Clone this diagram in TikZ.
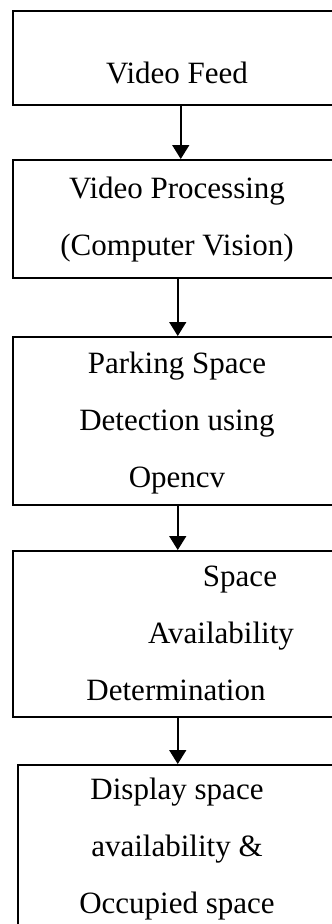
\documentclass[tikz,border=0pt]{standalone}
\usepackage{fontspec}
\setmainfont{Liberation Serif}
\usepackage{tikz}
\usetikzlibrary{shapes, arrows.meta}
\tikzstyle{stage} = [rectangle, draw=black, line width=1.5pt, inner sep=0pt, anchor=north west, minimum width=330pt]
\tikzstyle{txt} = [font=\fontsize{31}{57}\selectfont, align=center, anchor=base, inner sep=0pt]
\tikzstyle{arrow} = [line width=1.5pt, -{Triangle[length=14pt,width=17pt]}]

\begin{document}
\begin{tikzpicture}[x=1pt, y=-1pt]
\useasboundingbox (0,0) rectangle (332,924);
\clip (0,0) rectangle (332,924);

%==============================================
%Cajas
%==============================================
\node (feed) [stage, minimum height=94pt] at (12,10) {};
\node (feedtxt) [txt] at (177,83) {Video Feed};

\node (proc) [stage, minimum height=118pt] at (12,159) {};
\node (proctxt) [txt] at (177,255) {Video Processing\\(Computer Vision)};

\node (detect) [stage, minimum height=168pt] at (12,336) {};
\node (detecttxt) [txt] at (177,487) {Parking Space\\Detection using\\Opencv};

\node (avail) [stage, minimum height=166pt] at (12,550) {};
\node (availtxt) [txt] at (176,700) {\hspace*{128pt}Space\\\hspace*{90pt}Availability\\Determination};

\node (disp) [stage, minimum height=180pt, minimum width=320pt] at (17,764) {};
\node (disptxt) [txt] at (177,913) {Display space\\availability \&\\Occupied space};

%==============================================
\draw [arrow] ([xshift=3pt]feed.south) -- ([xshift=3pt]proc.north);
\draw [arrow] (proc) -- (detect);
\draw [arrow] (detect) -- (avail);
\draw [arrow] (avail) -- (disp);
\end{tikzpicture}
\end{document}
